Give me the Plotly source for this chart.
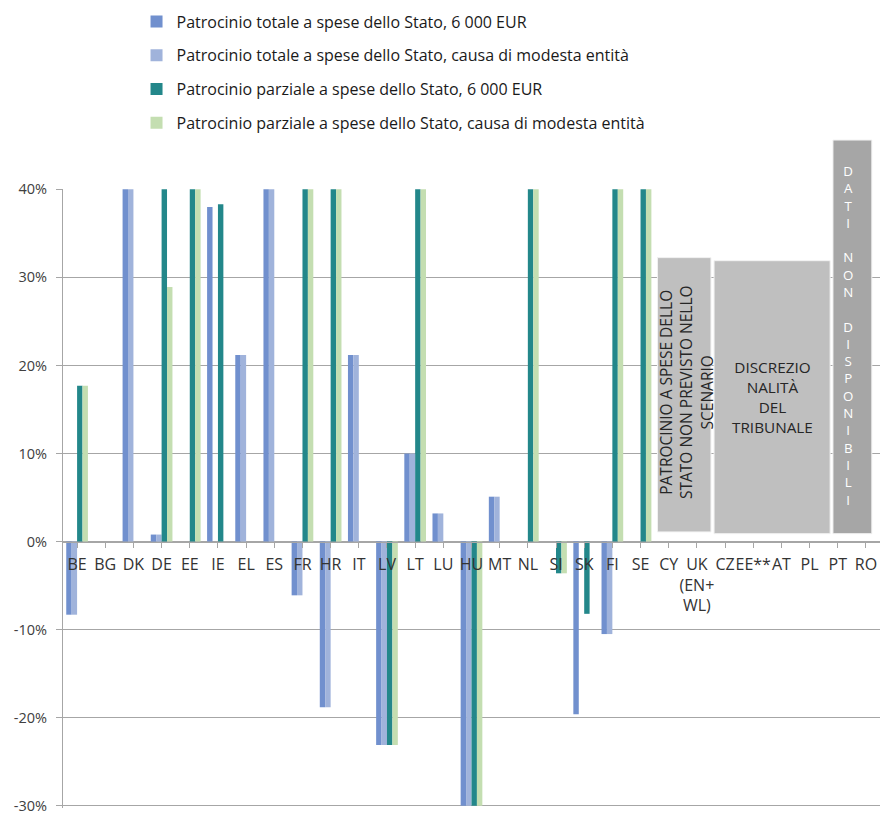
import plotly.graph_objects as go

categories = ["BE", "BG", "DK", "DE", "EE", "IE", "EL", "ES", "FR", "HR", "IT", "LV", "LT", "LU",
              "HU", "MT", "NL", "SI", "SK", "FI", "SE", "CY", "UK<br>(EN+<br>WL)", "CZ", "EE**",
              "AT", "PL", "PT", "RO"]

series_names = [
    "Patrocinio totale a spese dello Stato, 6 000 EUR",
    "Patrocinio totale a spese dello Stato, causa di modesta entità",
    "Patrocinio parziale a spese dello Stato, 6 000 EUR",
    "Patrocinio parziale a spese dello Stato, causa di modesta entità",
]

N = None
totale_6000 = [-0.083, N, 0.40, 0.008, N, 0.380, 0.212, 0.40, -0.061, -0.188, 0.212, -0.231, 0.100, 0.032,
               -0.30, 0.051, N, N, -0.196, -0.105, N, N, N, N, N, N, N, N, N]
totale_modesta = [-0.083, N, 0.40, 0.008, N, N, 0.212, 0.40, -0.061, -0.188, 0.212, -0.231, 0.100, 0.032,
                  -0.30, 0.051, N, N, N, -0.105, N, N, N, N, N, N, N, N, N]
parziale_6000 = [0.177, N, N, 0.40, 0.40, 0.383, N, N, 0.40, 0.40, N, -0.231, 0.40, N,
                 -0.30, N, 0.40, -0.036, -0.082, 0.40, 0.40, N, N, N, N, N, N, N, N]
parziale_modesta = [0.177, N, N, 0.289, 0.40, N, N, N, 0.40, 0.40, N, -0.231, 0.40, N,
                    -0.30, N, 0.40, -0.036, N, 0.40, 0.40, N, N, N, N, N, N, N, N]

y_tickvals = [-0.3, -0.2, -0.1, 0.0, 0.1, 0.2, 0.3, 0.4]
y_ticktext = ["-30%", "-20%", "-10%", "0%", "10%", "20%", "30%", "40%"]

series_values = [totale_6000, totale_modesta, parziale_6000, parziale_modesta]
colors = ["#7190CE", "#A0B3DB", "#23878A", "#C4DEB1"]

y_min, y_max = -0.3025, 0.4004
n_cat = len(categories)

FONT = "Open Sans"
TEXT = "#333333"
GRID = "#A6A6A6"

fig = go.Figure()
for name, vals, col, g in zip(series_names, series_values, colors, range(4)):
    fig.add_trace(go.Bar(
        x=list(range(n_cat)), y=vals, name=name,
        marker=dict(color=col, line=dict(width=0)),
        legendgroup="g%d" % g,
    ))


def xdom(u):
    return (u + 0.5) / n_cat


def ydom(v):
    return (v - y_min) / (y_max - y_min)


shapes = [
    dict(type="rect", xref="x", yref="y", x0=20.60, x1=22.50, y0=0.011, y1=0.3225,
         fillcolor="#BFBFBF", line=dict(color="#F2F2F2", width=1), layer="above"),
    dict(type="rect", xref="x", yref="y", x0=22.61, x1=26.73, y0=0.009, y1=0.319,
         fillcolor="#BFBFBF", line=dict(color="#F2F2F2", width=1), layer="above"),
    dict(type="rect", xref="x domain", yref="y domain", x0=xdom(26.83), x1=xdom(28.21),
         y0=ydom(0.009), y1=ydom(0.456),
         fillcolor="#A6A6A6", line=dict(color="#F2F2F2", width=1), layer="above"),
]

box3_text = "<br>".join(list("DATI NON DISPONIBILI")).replace(" ", "")

annotations = [
    dict(xref="x", yref="y", x=21.62, y=0.170, xanchor="center", yanchor="middle",
         showarrow=False, textangle=-90,
         text="PATROCINIO A SPESE DELLO<br>STATO NON PREVISTO NELLO<br>SCENARIO",
         font=dict(family=FONT, size=15.5, color="#262626"), align="center"),
    dict(xref="x", yref="y", x=24.67, y=0.164, xanchor="center", yanchor="middle",
         showarrow=False,
         text="DISCREZIO<br>NALITÀ<br>DEL<br>TRIBUNALE",
         font=dict(family=FONT, size=15.3, color="#262626"), align="center"),
    dict(xref="x domain", yref="y domain", x=xdom(27.37), y=ydom(0.2335),
         xanchor="center", yanchor="middle", showarrow=False,
         text=box3_text,
         font=dict(family=FONT, size=13.3, color="#FFFFFF"), align="center"),
]

fig.update_layout(
    width=880, height=813,
    margin=dict(l=63, r=0, t=189, b=5, autoexpand=False),
    paper_bgcolor="white", plot_bgcolor="white",
    barmode="group", bargap=0.23, bargroupgap=0,
    font=dict(family=FONT, color=TEXT),
    showlegend=True,
    legend=dict(orientation="v", x=0.09, xanchor="left", y=1.298, yanchor="top",
                font=dict(family=FONT, size=16, color="#1A1A1A"),
                tracegroupgap=10, itemwidth=30, bgcolor="rgba(0,0,0,0)"),
    xaxis=dict(
        tickmode="array", tickvals=list(range(n_cat)), ticktext=categories,
        range=[-0.5, n_cat - 0.5],
        anchor="free", position=ydom(0.0), automargin=False,
        showline=True, linecolor=GRID, linewidth=1,
        ticks="outside", tickson="boundaries", ticklen=5, tickcolor=GRID,
        showgrid=False, zeroline=False,
        tickfont=dict(family=FONT, size=16, color=TEXT), tickangle=0,
        ticklabelstandoff=3,
    ),
    yaxis=dict(
        range=[y_min, y_max], tickmode="array", tickvals=y_tickvals, ticktext=y_ticktext,
        automargin=False, ticklabeloverflow="allow",
        showline=True, linecolor=GRID, linewidth=1,
        ticks="outside", ticklen=6, tickcolor=GRID,
        showgrid=True, gridcolor=GRID, gridwidth=1,
        zeroline=True, zerolinecolor=GRID, zerolinewidth=1,
        tickfont=dict(family=FONT, size=14.5, color="#404040"),
        ticklabelstandoff=6,
    ),
    shapes=shapes,
    annotations=annotations,
)

fig.write_html("out.html", config={"displayModeBar": False},
               post_script="document.body.style.margin='0px';")
